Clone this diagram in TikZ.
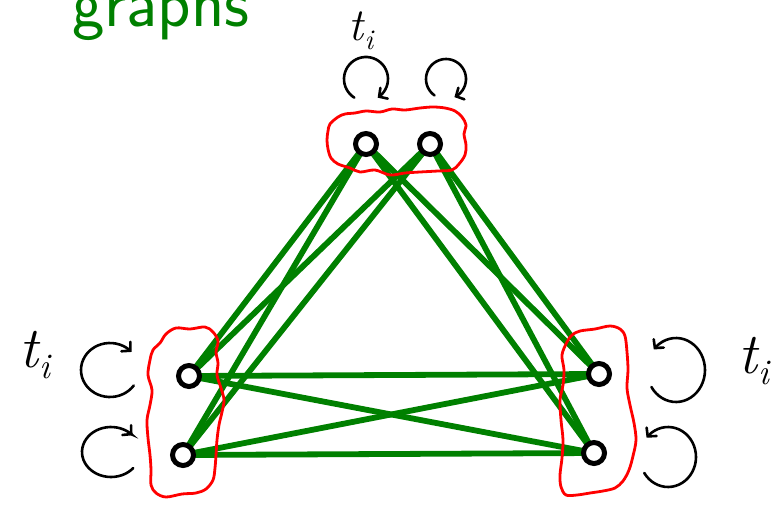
\documentclass[tikz,border=0pt]{standalone}
\usetikzlibrary{arrows.meta}
\newcommand{\tlab}[1]{\fontsize{#1}{#1}\selectfont\itshape t\kern0.02em\raisebox{-0.2em}{\fontsize{0.62\dimexpr #1\relax}{1}\selectfont i}}
\begin{document}
\begin{tikzpicture}[x=1pt,y=-1pt,
  vtx/.style={circle,draw=black,fill=white,line width=5pt,inner sep=0pt,minimum size=21pt},
  gedge/.style={draw=green!50!black,line width=5.8pt},
  blob/.style={draw=red,line width=2.8pt,line join=round},
  loopa/.style={draw=black,line width=2.6pt,line cap=round,-{Straight Barb[length=6pt,width=13pt,line cap=round]}},
  lab/.style={inner sep=0pt}]
\useasboundingbox (0,0) rectangle (782,506);
\clip (0,0) rectangle (782,506);
% title (cut off at top)
\node[anchor=base west,inner sep=0pt,text=green!50!black,
  font=\fontsize{69}{72}\selectfont\sffamily] (title) at (72,26) {graphs};
% vertex positions
\coordinate (pa1) at (366,144);
\coordinate (pa2) at (430,144);
\coordinate (pb1) at (189,376);
\coordinate (pb2) at (183,455);
\coordinate (pc1) at (599,374);
\coordinate (pc2) at (594,453);
% edges
\foreach \u/\v in {pa1/pb1,pa1/pb2,pa1/pc1,pa1/pc2,pa2/pb1,pa2/pb2,pa2/pc1,pa2/pc2,pb1/pc1,pb1/pc2,pb2/pc1,pb2/pc2}
  \path[gedge] (\u) -- (\v);
% red blobs
\path[blob] plot[smooth cycle,tension=0.55] coordinates {(330,124) (338,117) (345,114) (355,113) (366,111) (380,112) (392,109) (405,110) (420,108) (433,107) (445,108) (455,111) (462,117) (466,125) (464,134) (466,145) (465,155) (459,164) (452,170) (438,171) (420,172) (405,173) (390,175) (375,170) (360,172) (350,168) (338,164) (331,158) (328,149) (327,140) (328,131)};
\path[blob] plot[smooth cycle,tension=0.55] coordinates {(160,343) (166,334) (176,328) (190,329) (205,327) (213,332) (218,341) (216,352) (218,363) (217,375) (221,388) (224,400) (222,412) (219,425) (217,440) (216,455) (215,468) (213,480) (206,489) (196,493) (182,494) (166,497) (156,493) (151,485) (151,470) (150,455) (148,438) (147,420) (150,405) (152,390) (148,375) (150,360) (153,350)};
\path[blob] plot[smooth cycle,tension=0.55] coordinates {(567,342) (572,335) (580,331) (595,329) (610,326) (620,329) (625,336) (627,352) (628,370) (627,388) (630,405) (634,423) (636,440) (633,456) (629,470) (623,481) (615,488) (603,491) (590,493) (577,495) (566,495) (561,487) (560,475) (562,458) (563,440) (561,420) (560,400) (563,385) (564,370) (562,355)};
% vertices
\node[vtx] (a1) at (pa1) {};
\node[vtx] (a2) at (pa2) {};
\node[vtx] (b1) at (pb1) {};
\node[vtx] (b2) at (pb2) {};
\node[vtx] (c1) at (pc1) {};
\node[vtx] (c2) at (pc2) {};
% loops
\draw[loopa] plot[smooth,domain=122:418,samples=40] ({366+22*cos(\x)},{79+22*sin(\x)});
\draw[loopa] plot[smooth,domain=125:425,samples=40] ({446+20*cos(\x)},{79+20*sin(\x)});
\draw[loopa] plot[smooth,domain=35:318,samples=40] ({110+29*cos(\x)},{370+27*sin(\x)});
\draw[loopa] plot[smooth,domain=40:318,samples=40] ({111+29*cos(\x)},{452+25*sin(\x)});
\draw[loopa] plot[smooth,domain=148:-140,samples=40] ({676+29*cos(\x)},{370+32*sin(\x)});
\draw[loopa] plot[smooth,domain=148:-140,samples=40] ({668+28*cos(\x)},{457+30*sin(\x)});
% labels
\node[lab] (lt) at (361,31) {\tlab{46pt}};
\node[lab] (ll) at (35,355) {\tlab{58pt}};
\node[lab] (lr) at (754,361) {\tlab{58pt}};
\end{tikzpicture}
\end{document}
